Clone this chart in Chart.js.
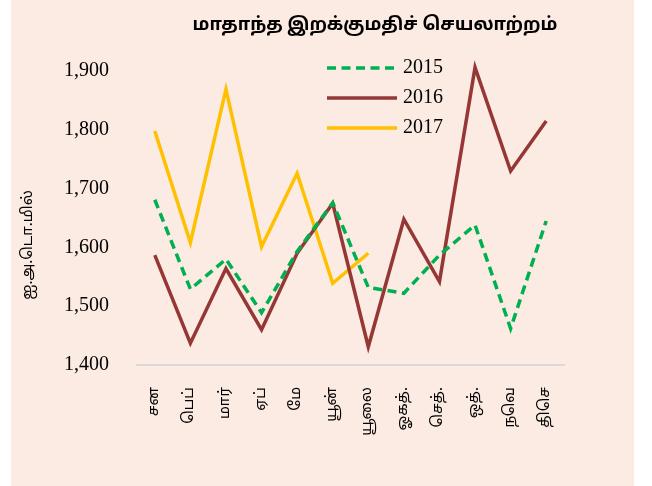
<!DOCTYPE html>
<html>
<head>
<meta charset="utf-8">
<script src="https://cdn.jsdelivr.net/npm/chart.js@4/dist/chart.umd.min.js"></script>
<style>
    body { margin: 0; background: #ffffff; }
    #box { position: absolute; left: 11px; top: 0; width: 623px; height: 486px; background: #fbebe2; }
</style>
</head>
<body>
<div id="box"><canvas id="grafica" width="623" height="486"></canvas></div>
<script>
const meses = ["சன", "பெப்", "மார்", "ஏப்", "மே", "யூன்", "யூலை", "ஓகத்.", "செத்.", "ஒத்.", "நவெ", "திசெ"];
const anio2015 = [1681, 1529, 1580, 1489, 1593, 1676, 1532, 1522, 1587, 1638, 1462, 1645];
const anio2016 = [1587, 1437, 1564, 1460, 1590, 1675, 1431, 1648, 1542, 1906, 1730, 1815];
const anio2017 = [1798, 1608, 1869, 1601, 1726, 1539, 1590, null, null, null, null, null];
const series = ["2015", "2016", "2017"];
const yTicks = [1400, 1500, 1600, 1700, 1800, 1900];

const titulo = "மாதாந்த இறக்குமதிச் செயலாற்றம்";
const tituloY = "ஐ.அ.டொ.மில்";

const tamil = 'Latha, "Noto Sans Tamil", "Lohit Tamil", "Noto Serif Tamil", sans-serif';
const serif = '"Liberation Serif", "DejaVu Serif", serif';

// titulo, eje y y leyenda dibujados a mano
const extras = {
    id: "extras",
    afterDraw(chart) {
        const ctx = chart.ctx;
        const area = chart.chartArea;
        ctx.save();
        ctx.fillStyle = "#000000";
        ctx.textAlign = "center";
        ctx.textBaseline = "middle";
        ctx.font = "bold 18px " + tamil;
        ctx.fillText(titulo, 364, 26);

        ctx.save();
        ctx.translate(18, 245);
        ctx.rotate(-Math.PI / 2);
        ctx.font = "15px " + tamil;
        ctx.fillText(tituloY, 0, 0);
        ctx.restore();

        ctx.font = "20px " + serif;
        ctx.textAlign = "left";
        chart.data.datasets.forEach((ds, i) => {
            const y = area.top - 3 + i * 30;
            ctx.beginPath();
            ctx.strokeStyle = ds.borderColor;
            ctx.lineWidth = ds.borderWidth;
            ctx.setLineDash(ds.borderDash || []);
            ctx.moveTo(316, y);
            ctx.lineTo(386, y);
            ctx.stroke();
            ctx.setLineDash([]);
            ctx.fillText(ds.label, 392, y);
        });
        ctx.restore();
    },
};

new Chart(document.getElementById("grafica").getContext("2d"), {
    type: "line",
    data: {
        labels: meses,
        datasets: [
            {
                label: series[0],
                data: anio2015,
                borderColor: "#00b050",
                borderWidth: 3.5,
                borderDash: [9, 5.5],
                pointRadius: 0,
                clip: false,
            },
            {
                label: series[1],
                data: anio2016,
                borderColor: "#953735",
                borderWidth: 3.5,
                pointRadius: 0,
                clip: false,
            },
            {
                label: series[2],
                data: anio2017,
                borderColor: "#ffc000",
                borderWidth: 3.5,
                pointRadius: 0,
                clip: false,
            },
        ],
    },
    options: {
        responsive: false,
        animation: false,
        layout: { padding: { left: 0, right: 70, top: 71, bottom: 0 } },
        plugins: {
            legend: { display: false },
            title: { display: false },
            tooltip: { enabled: false },
        },
        scales: {
            x: {
                offset: true,
                grid: { display: false, drawTicks: false },
                border: { display: true, color: "#d9d9d9", width: 2 },
                ticks: {
                    color: "#000000",
                    font: { family: tamil, size: 15 },
                    minRotation: 90,
                    maxRotation: 90,
                    padding: 22,
                    autoSkip: false,
                },
                afterFit(scale) {
                    scale.height = 121;
                },
            },
            y: {
                min: yTicks[0],
                max: yTicks[yTicks.length - 1],
                grid: { display: false, drawTicks: false },
                border: { display: false },
                afterBuildTicks(scale) {
                    scale.ticks = yTicks.map((v) => ({ value: v }));
                },
                ticks: {
                    color: "#000000",
                    font: { family: serif, size: 20 },
                    padding: 28,
                    callback: (v) => v.toLocaleString("en-US"),
                },
                afterFit(scale) {
                    scale.width = 126;
                },
            },
        },
    },
    plugins: [extras],
});
</script>
</body>
</html>
